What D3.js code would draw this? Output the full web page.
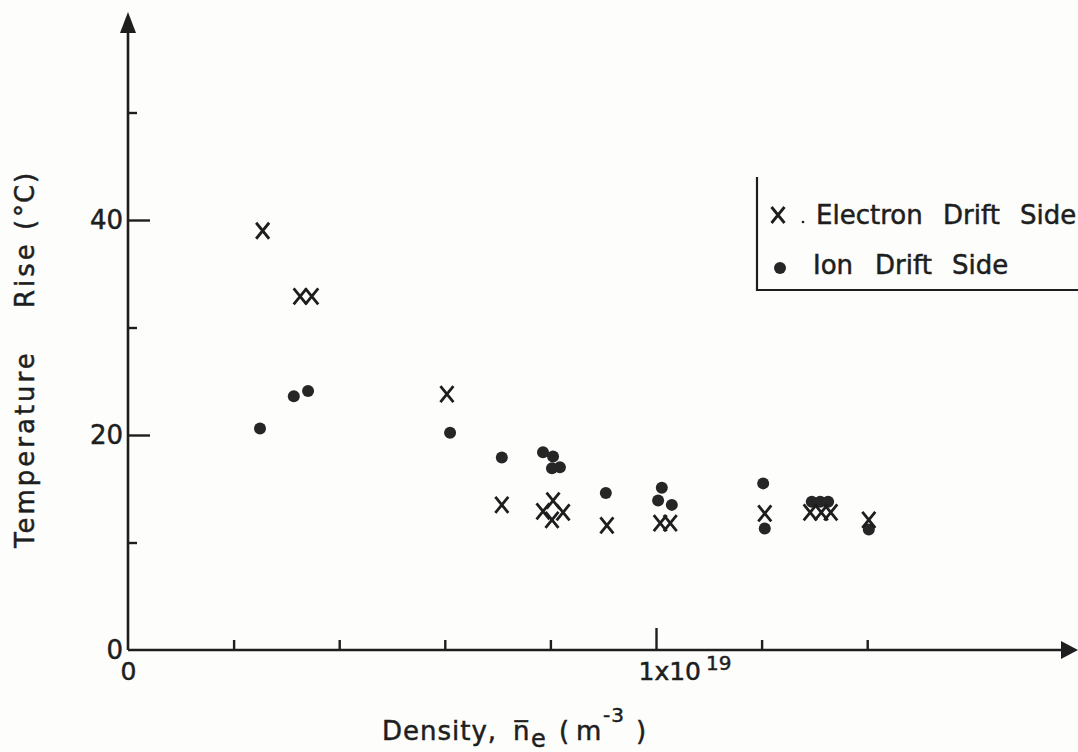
<!DOCTYPE html>
<html>
<head>
<meta charset="utf-8">
<script src="https://cdn.jsdelivr.net/npm/d3@7"></script>
<style>
  html, body { margin: 0; padding: 0; background: #fdfdfb; }
  svg { display: block; }
  text { font-family: "DejaVu Sans", sans-serif; fill: #1e1e1e; stroke: #1e1e1e; stroke-width: 0.5; }
</style>
</head>
<body>
<svg id="chart" width="1078" height="752"></svg>
<script>
// Density in units of 1e19 m^-3, temperature rise in °C
const electronDensity = [0.255, 0.326, 0.348, 0.604, 0.708, 0.786, 0.805, 0.803, 0.824, 0.907, 1.008, 1.027, 1.206, 1.292, 1.313, 1.331, 1.403];
const electronRise    = [39.0, 32.9, 32.9, 23.8, 13.5, 12.9, 13.9, 12.1, 12.8, 11.6, 11.8, 11.8, 12.7, 12.8, 12.8, 12.8, 12.1];

const ionDensity = [0.250, 0.314, 0.341, 0.610, 0.708, 0.786, 0.805, 0.803, 0.818, 0.905, 1.011, 1.004, 1.030, 1.203, 1.206, 1.295, 1.311, 1.326, 1.403];
const ionRise    = [20.6, 23.6, 24.1, 20.2, 17.9, 18.4, 18.0, 16.9, 17.0, 14.6, 15.1, 13.9, 13.5, 15.5, 11.3, 13.8, 13.8, 13.8, 11.2];

const xTicks = [0, 0.2, 0.4, 0.6, 0.8, 1.0, 1.2, 1.4];
const yTicks = [0, 10, 20, 30, 40, 50];
const yTickLabels = {0: "0", 20: "20", 40: "40"};

const ink = "#1e1e1e";
const svg = d3.select("#chart");

const x = d3.scaleLinear().domain([0, 1]).range([128, 656]);
const y = d3.scaleLinear().domain([0, 50]).range([650, 112.5]);

// Axis lines with arrowheads
const x0 = x(0), y0 = y(0);
svg.append("line").attr("x1", x0).attr("y1", y0).attr("x2", 1064).attr("y2", y0)
  .attr("stroke", ink).attr("stroke-width", 2.6);
svg.append("path").attr("d", `M1078,${y0} L1061,${y0 - 9} L1061,${y0 + 9} Z`).attr("fill", ink);
svg.append("line").attr("x1", x0).attr("y1", y0).attr("x2", x0).attr("y2", 28)
  .attr("stroke", ink).attr("stroke-width", 2.6);
svg.append("path").attr("d", `M${x0},12 L${x0 - 8},33 L${x0 + 8},33 Z`).attr("fill", ink);

// X axis ticks (pointing up)
const xAxis = d3.axisBottom(x).tickValues(xTicks).tickSizeOuter(0).tickSizeInner(-10).tickPadding(10)
  .tickFormat(d => d === 0 ? "0" : "");
const gx = svg.append("g").attr("transform", `translate(0,${y0})`).call(xAxis);
gx.select(".domain").remove();
gx.selectAll(".tick line").attr("stroke", ink).attr("stroke-width", 2.4)
  .attr("y2", d => d === 0 ? 0 : (d === 1 ? -22 : -10));
gx.selectAll(".tick text").attr("font-size", 25).attr("fill", ink).attr("dy", "0.71em").attr("y", 12);
// label at 1e19 with superscript exponent
gx.selectAll(".tick").filter(d => d === 1).select("text")
  .attr("text-anchor", "start").attr("x", -18)
  .call(t => {
    t.append("tspan").text("1x10");
    t.append("tspan").attr("font-size", 20).attr("dx", 5).attr("dy", "-0.5em").text("19");
  });

// Y axis ticks (pointing right)
const yAxis = d3.axisLeft(y).tickValues(yTicks).tickSizeOuter(0).tickSizeInner(-9).tickPadding(6)
  .tickFormat(d => yTickLabels[d] || "");
const gy = svg.append("g").attr("transform", `translate(${x0},0)`).call(yAxis);
gy.select(".domain").remove();
gy.selectAll(".tick line").attr("stroke", ink).attr("stroke-width", 2.4)
  .attr("x2", d => d === 0 ? 0 : (d % 20 === 0 ? 22 : 9));
gy.selectAll(".tick text").attr("font-size", 26).attr("fill", ink).attr("x", -5);

// Axis titles
const yt = svg.append("text")
  .attr("transform", "translate(34,548) rotate(-90)")
  .attr("font-size", 26).attr("letter-spacing", 3);
yt.append("tspan").attr("x", 0).text("Temperature");
yt.append("tspan").attr("x", 240).text("Rise");
yt.append("tspan").attr("x", 318).text("(");
yt.append("tspan").attr("x", 331).attr("letter-spacing", 1).text("°C");
yt.append("tspan").attr("x", 365).text(")");

const xt = svg.append("text").attr("y", 740).attr("font-size", 26).attr("letter-spacing", 1);
xt.append("tspan").attr("x", 382).text("Density,");
xt.append("tspan").attr("x", 513).text("n\u0305");
xt.append("tspan").attr("x", 531).attr("y", 747).attr("font-size", 24).text("e");
xt.append("tspan").attr("x", 559).attr("y", 740).text("(");
xt.append("tspan").attr("x", 576).text("m");
xt.append("tspan").attr("x", 603).attr("y", 722).attr("font-size", 20).text("-3");
xt.append("tspan").attr("x", 636).attr("y", 740).text(")");

// Data marks
const crossPath = (cx, cy) => `M${cx - 6.5},${cy - 8} L${cx + 6.5},${cy + 8} M${cx + 6.5},${cy - 8} L${cx - 6.5},${cy + 8}`;

svg.append("g").selectAll("circle").data(d3.range(ionDensity.length)).join("circle")
  .attr("cx", i => x(ionDensity[i])).attr("cy", i => y(ionRise[i]))
  .attr("r", 6).attr("fill", "#262626");

svg.append("g").selectAll("path").data(d3.range(electronDensity.length)).join("path")
  .attr("d", i => crossPath(x(electronDensity[i]), y(electronRise[i])))
  .attr("stroke", ink).attr("stroke-width", 2.8).attr("fill", "none");

// Legend
const lg = svg.append("g");
lg.append("path").attr("d", "M757,177 L757,290 L1078,290")
  .attr("stroke", ink).attr("stroke-width", 2.2).attr("fill", "none");
lg.append("path").attr("d", crossPath(778, 215)).attr("stroke", ink).attr("stroke-width", 2.8);
lg.append("circle").attr("cx", 803).attr("cy", 222).attr("r", 1.3).attr("fill", ink);
const l1 = lg.append("text").attr("y", 224).attr("font-size", 26);
l1.append("tspan").attr("x", 816).text("Electron");
l1.append("tspan").attr("x", 943).text("Drift");
l1.append("tspan").attr("x", 1020).text("Side");
lg.append("circle").attr("cx", 780).attr("cy", 268).attr("r", 6).attr("fill", "#262626");
const l2 = lg.append("text").attr("y", 274).attr("font-size", 26);
l2.append("tspan").attr("x", 813).text("Ion");
l2.append("tspan").attr("x", 875).text("Drift");
l2.append("tspan").attr("x", 952).text("Side");
</script>
</body>
</html>
